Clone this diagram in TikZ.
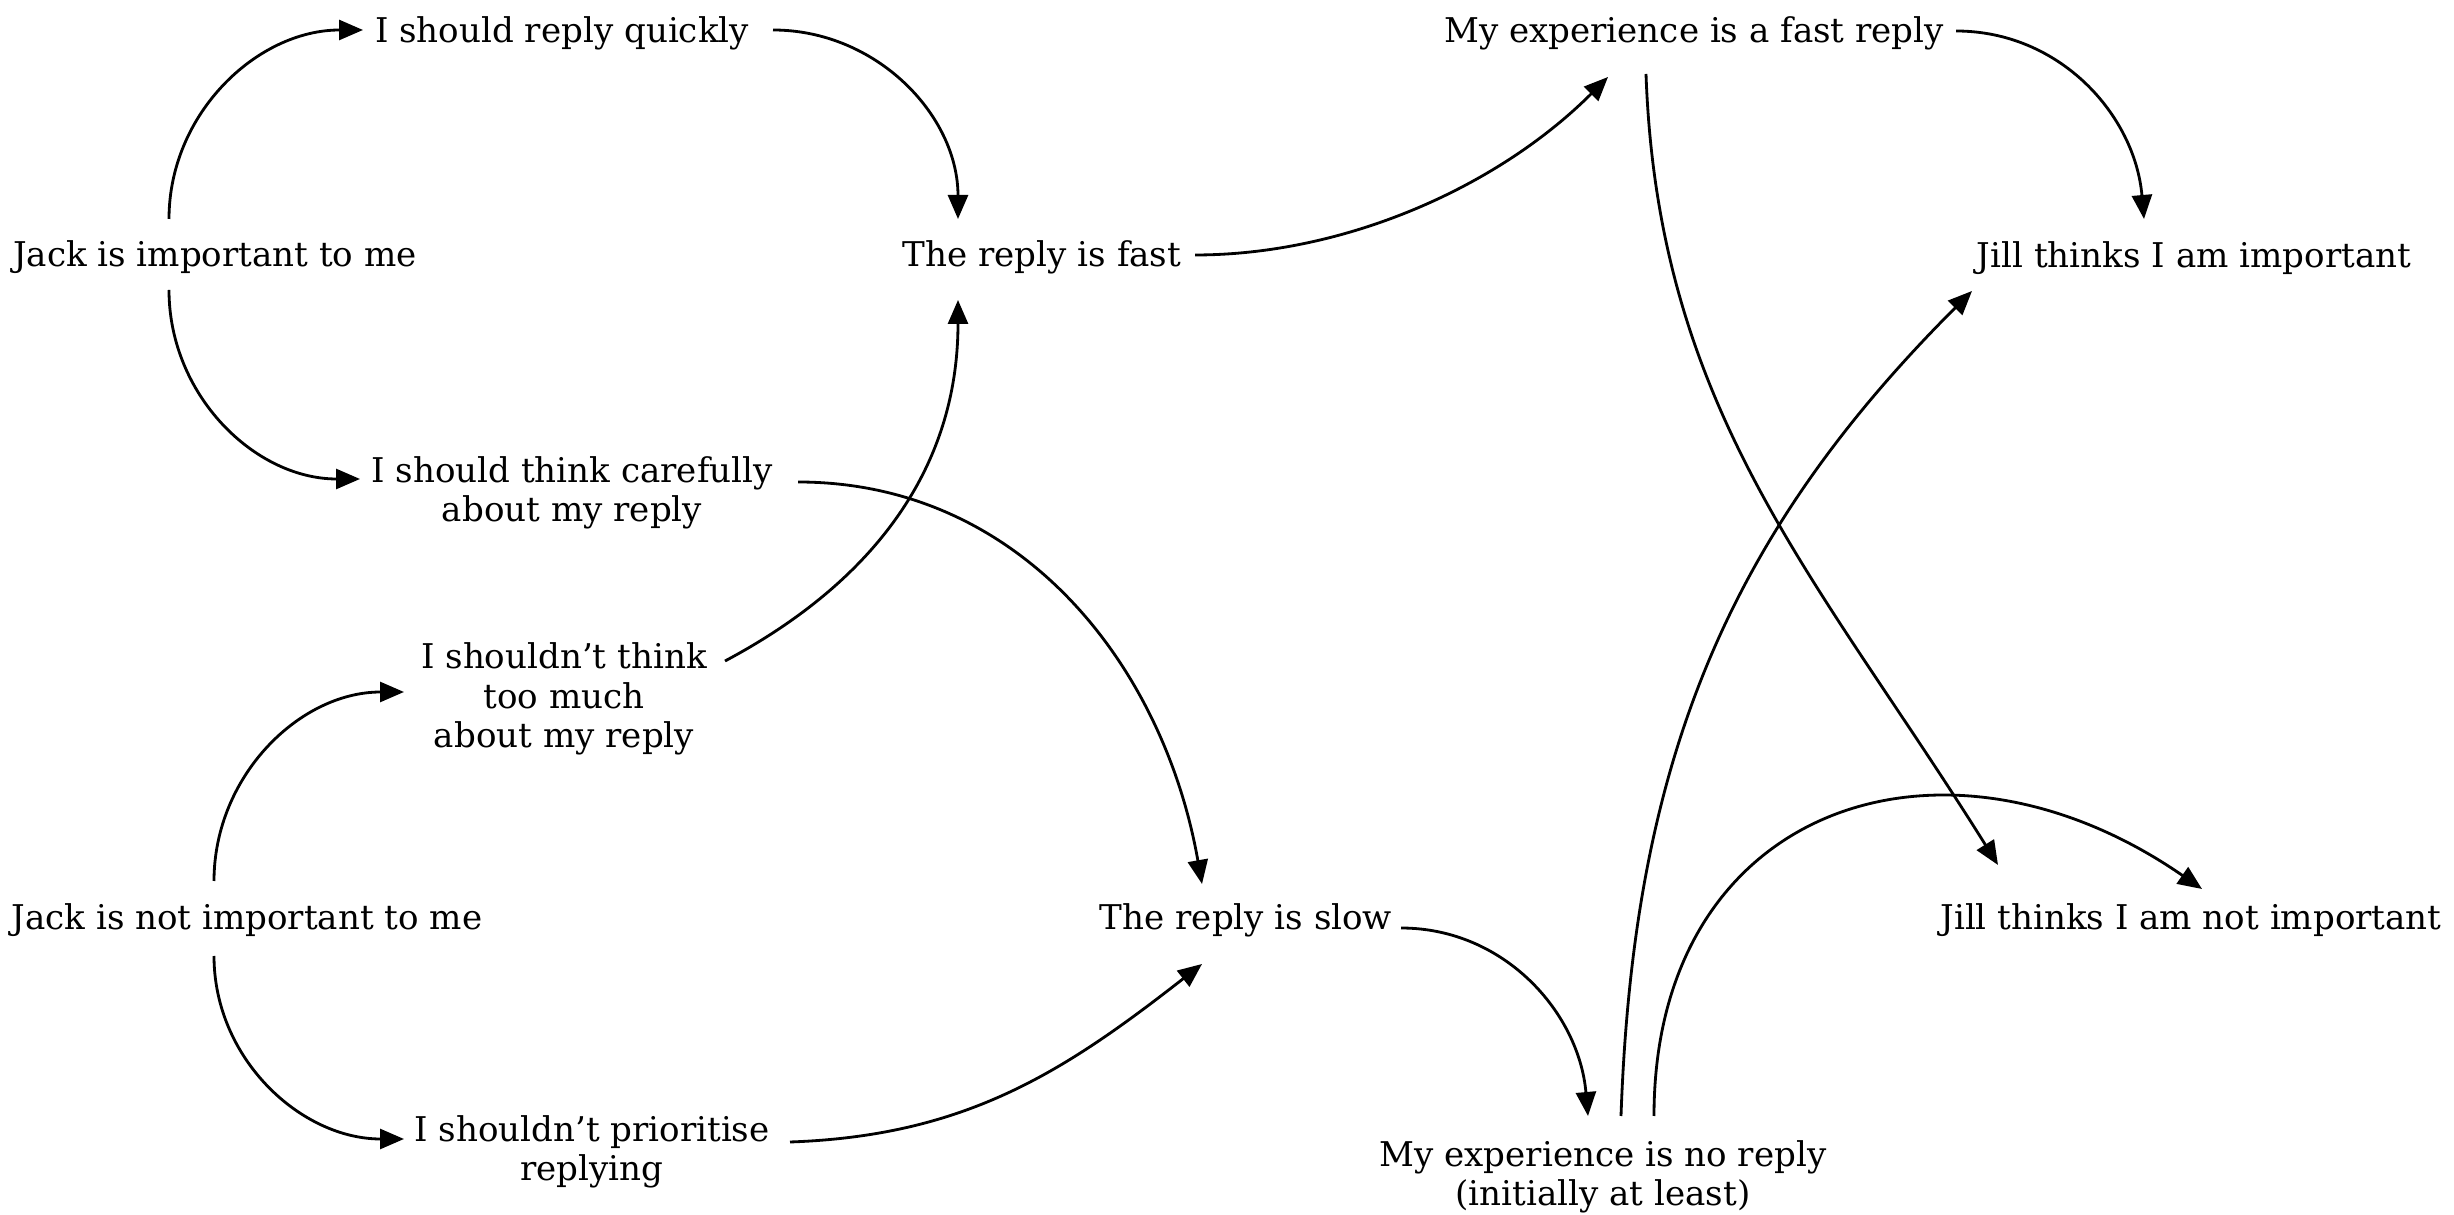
\documentclass[tikz,border=0pt]{standalone}
\usepackage{fontspec}
\setmainfont{DejaVu Serif}
\usetikzlibrary{arrows.meta,calc}
\begin{document}
\begin{tikzpicture}[x=0.1mm,y=0.1mm,
  lbl/.style={inner sep=0pt,align=center,font=\fontsize{9.7}{11.2}\selectfont},
  conn/.style={line width=0.8pt,-{Triangle[length=2.4mm,width=2.0mm]}}]
\useasboundingbox (0,0) rectangle (2454,1214);
\node[lbl] (J1) at (215,957) {Jack is important to me};
\node[lbl] (Q) at (562,1181) {I should reply quickly};
\node[lbl] (C) at (572,721) {I should think carefully\\about my reply};
\node[lbl] (T) at (564,515) {I shouldn’t think\\too much\\about my reply};
\node[lbl] (J2) at (247,294) {Jack is not important to me};
\node[lbl] (P) at (592,62) {I shouldn’t prioritise\\replying};
\node[lbl] (F) at (1042,957) {The reply is fast};
\node[lbl] (S) at (1246,294) {The reply is slow};
\node[lbl] (EF) at (1694,1181) {My experience is a fast reply};
\node[lbl] (EN) at (1603,37) {My experience is no reply\\(initially at least)};
\node[lbl] (JI) at (2194,956) {Jill thinks I am important};
\node[lbl] (JN) at (2191,294) {Jill thinks I am not important};

\draw[conn] ($(J1)+(-46,38)$) to[out=90,in=180] ($(Q)+(-199,3)$);
\draw[conn] ($(J1)+(-46,-33)$) to[out=-90,in=180] ($(C)+(-212,14)$);
\draw[conn] ($(Q)+(211,3)$) to[out=0,in=90] ($(F)+(-84,38)$);
\draw[conn] ($(T)+(161,38)$) to[out=28,in=-90] ($(F)+(-84,-43)$);
\draw[conn] ($(C)+(226,11)$) to[out=0,in=100] ($(S)+(-44,36)$);
\draw[conn] ($(J2)+(-33,39)$) to[out=90,in=180] ($(T)+(-160,7)$);
\draw[conn] ($(J2)+(-33,-36)$) to[out=-90,in=180] ($(P)+(-188,13)$);
\draw[conn] ($(P)+(198,10)$) to[out=2,in=-142] ($(S)+(-44,-44)$);
\draw[conn] ($(F)+(153,2)$) .. controls +(150,0) and +(-110,-110) .. ($(EF)+(-86,-44)$);
\draw[conn] ($(EF)+(262,2)$) to[out=0,in=95] ($(JI)+(-50,39)$);
\draw[conn] ($(EF)+(-48,-41)$) to[out=-88,in=122] ($(JN)+(-193,55)$);
\draw[conn] ($(S)+(155,-8)$) to[out=0,in=95] ($(EN)+(-15,61)$);
\draw[conn] ($(EN)+(18,61)$) to[out=88,in=-135] ($(JI)+(-222,-33)$);
\draw[conn] ($(EN)+(51,61)$) .. controls +(0,310) and +(-260,180) .. ($(JN)+(11,31)$);
\end{tikzpicture}
\end{document}
